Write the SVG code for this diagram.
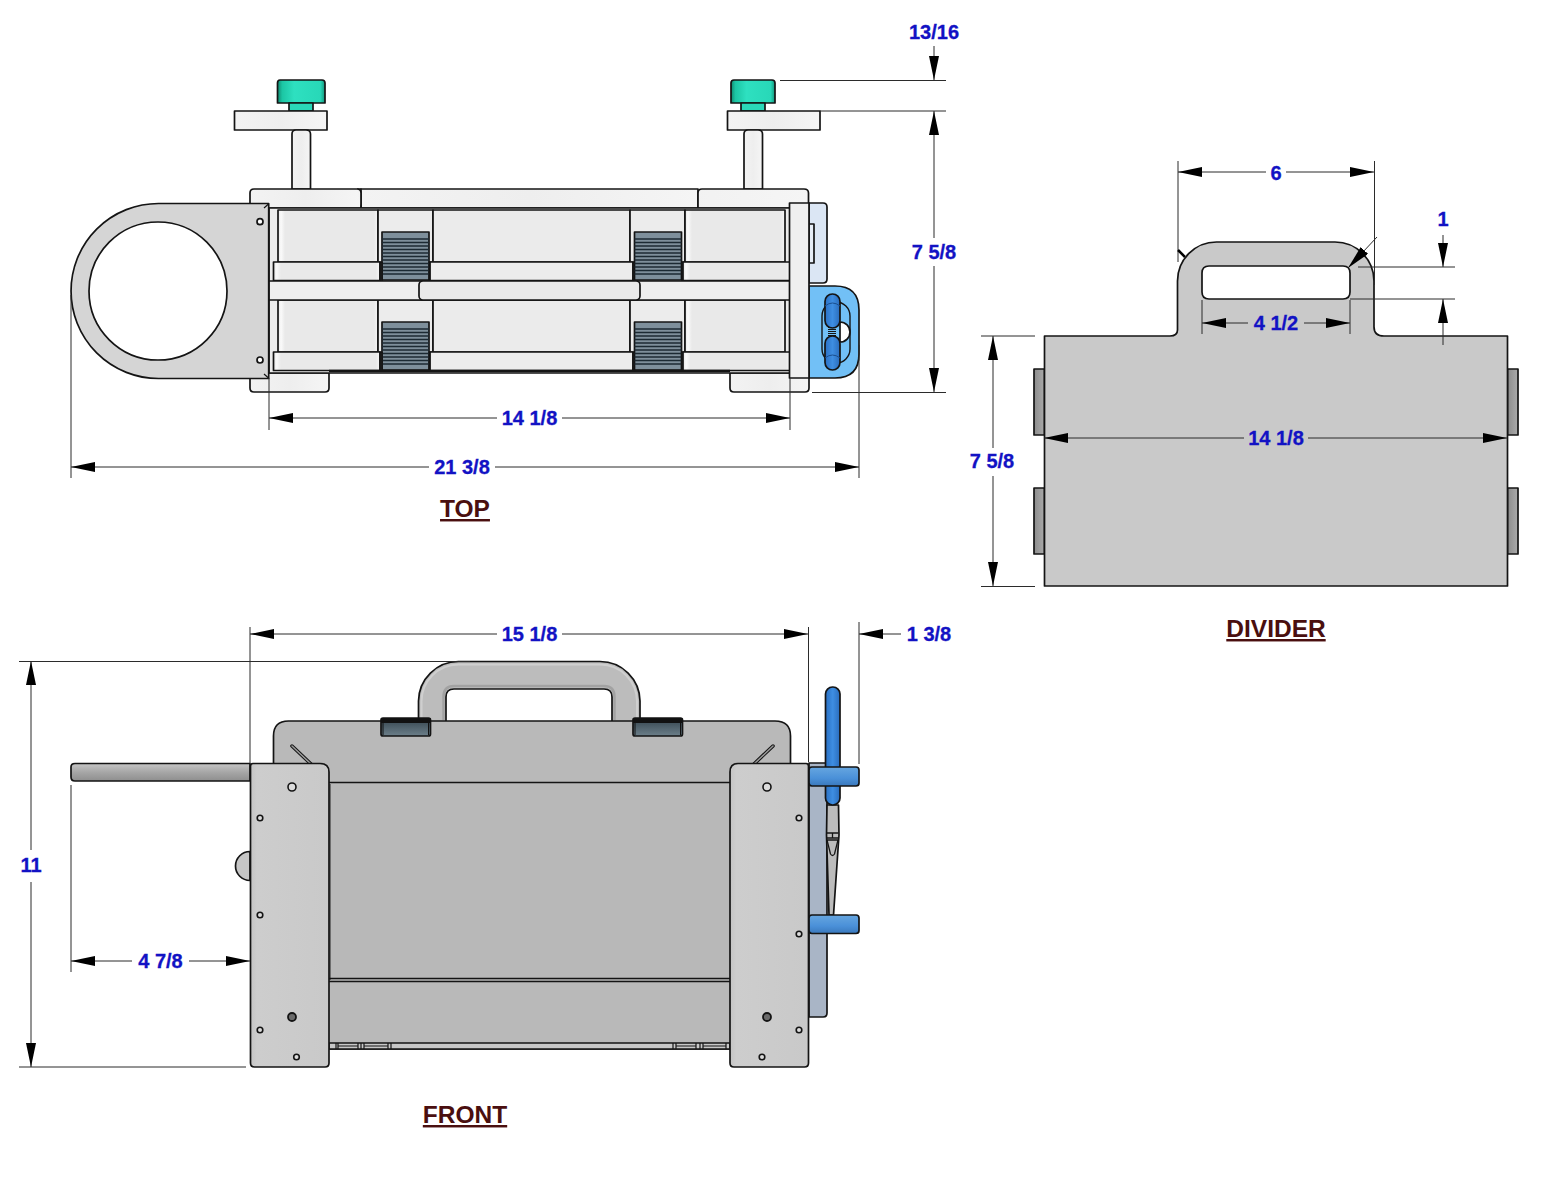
<svg xmlns="http://www.w3.org/2000/svg" width="1564" height="1200" viewBox="0 0 1564 1200">
<style>
.o{stroke:#141414;stroke-width:1.7;stroke-linejoin:round}
.lt{fill:url(#lightH)}
.pn{fill:url(#panel)}
.gr{fill:#d5d5d5}
.fr{fill:#b9b9b9}
.pl{fill:url(#plate)}
.ho{fill:#dcdcdc;stroke:#141414;stroke-width:1.6}
.hk{fill:#6a6a6a;stroke:#141414;stroke-width:1.8}
.sl{stroke:#1c2a33;stroke-width:1.5}
.d{stroke:#2b2b2b;stroke-width:1;fill:none}
.a{marker-end:url(#ar)}
.t{font:bold 20px "Liberation Sans",Arial,sans-serif;fill:#1212c4;stroke:#1212c4;stroke-width:.3;text-anchor:middle}
.h{font:bold 24.5px "Liberation Sans",Arial,sans-serif;fill:#4a0f0f;text-anchor:middle;text-decoration:underline}
</style>
<defs>
<marker id="ar" markerUnits="userSpaceOnUse" markerWidth="24" markerHeight="12" refX="24" refY="5" orient="auto"><path d="M0 0L24 5L0 10Z" fill="#000"/></marker>
<linearGradient id="lightH" x1="0" x2="1" y1="0" y2="0"><stop offset="0" stop-color="#f3f3f3"/><stop offset=".5" stop-color="#eeeeee"/><stop offset="1" stop-color="#f5f5f5"/></linearGradient>
<linearGradient id="panel" x1="0" x2="1" y1="0" y2="0"><stop offset="0" stop-color="#e6e6e6"/><stop offset=".03" stop-color="#fafafa"/><stop offset=".07" stop-color="#e9e9e9"/><stop offset=".96" stop-color="#e9e9e9"/><stop offset="1" stop-color="#f6f6f6"/></linearGradient>
<linearGradient id="plate" x1="0" x2="1" y1="0" y2="0"><stop offset="0" stop-color="#c4c4c4"/><stop offset=".08" stop-color="#cdcdcd"/><stop offset="1" stop-color="#c9c9c9"/></linearGradient>
<linearGradient id="teal" x1="0" x2="1" y1="0" y2="0"><stop offset="0" stop-color="#108a70"/><stop offset=".1" stop-color="#1cc6a4"/><stop offset=".35" stop-color="#2ee0c0"/><stop offset=".9" stop-color="#28d8b8"/><stop offset="1" stop-color="#14957c"/></linearGradient>
<linearGradient id="bar" x1="0" x2="0" y1="0" y2="1"><stop offset="0" stop-color="#c6c6c6"/><stop offset=".5" stop-color="#a6a6a6"/><stop offset="1" stop-color="#8e8e8e"/></linearGradient>
<linearGradient id="tab" x1="0" x2="1" y1="0" y2="0"><stop offset="0" stop-color="#8c8c8c"/><stop offset="1" stop-color="#ababab"/></linearGradient>
<linearGradient id="latch" x1="0" x2="0" y1="0" y2="1"><stop offset="0" stop-color="#33434c"/><stop offset="1" stop-color="#6c7f8a"/></linearGradient>
<linearGradient id="blue" x1="0" x2="1" y1="0" y2="0"><stop offset="0" stop-color="#2a70c4"/><stop offset=".5" stop-color="#3e8ee2"/><stop offset="1" stop-color="#2a6cbc"/></linearGradient>
<linearGradient id="bluebar" x1="0" x2="0" y1="0" y2="1"><stop offset="0" stop-color="#66a6e0"/><stop offset=".6" stop-color="#4a90d8"/><stop offset="1" stop-color="#3a78bc"/></linearGradient>
<g id="strap">
<rect x="0" y="0" width="47" height="48" fill="#7e8f9b" class="o"/>
<path d="M0 7H47M0 10.5H47M0 14H47M0 17.5H47M0 21H47M0 24.500H47M0 28H47M0 31.500H47M0 35H47M0 38.500H47M0 42H47" class="sl" fill="none"/>
</g>
</defs>
<rect width="1564" height="1200" fill="#fff"/>

<g id="top-view">
<g id="top-knob-left">
<path d="M277.500 103V83Q277.500 80 280 80H322Q325 80 325 83V103Z" fill="url(#teal)" class="o"/>
<rect x="289" y="103" width="24" height="8" fill="#2ad8b8" class="o"/>
<rect x="234.500" y="111" width="92.500" height="19" class="o lt"/>
<path d="M292 189V134Q292 130 296 130H306Q310.500 130 310.500 134V189Z" class="o lt"/>
</g>
<g id="top-knob-right">
<path d="M731 103V83Q731 80 734 80H772Q775 80 775 83V103Z" fill="url(#teal)" class="o"/>
<rect x="741" y="103" width="24" height="8" fill="#2ad8b8" class="o"/>
<rect x="727.500" y="111" width="92.500" height="19" class="o lt"/>
<path d="M744 189V134Q744 130 748 130H758Q762.500 130 762.500 134V189Z" class="o lt"/>
</g>
<g id="top-rear-handle">
<path d="M809 203H823Q827 203 827 207V279Q827 283 823 283H809Z" fill="#dbe6f4" class="o"/>
<path d="M809 224H814V263H809Z" fill="#e6edf6" class="o"/>
</g>
<g id="top-blue-bracket">
<path d="M809 286H835Q859 286 859 310V354Q859 378 835 378H809Z" fill="#72c0f6" class="o"/>
<rect x="822" y="302" width="28" height="61" rx="14" fill="#72c0f6" stroke="#141414" stroke-width="1.4"/>
<path d="M840 322A10 10 0 0 1 840 342Z" fill="#fff" class="o"/>
<path d="M832 321V342" stroke="#141414" stroke-width="8" stroke-dasharray="1 1"/>
<rect x="825" y="294" width="15" height="34" rx="7.500" fill="url(#blue)" class="o"/>
<rect x="825" y="336" width="15" height="34" rx="7.500" fill="url(#blue)" class="o"/>
<path d="M825 306Q832.500 300 840 306M825 358Q832.500 352 840 358" stroke="#1b4f8f" stroke-width="1" fill="none"/>
</g>
<g id="top-clamps">
<path d="M250 208V193Q250 189 254 189H361V208Z" class="o lt"/>
<path d="M361 189H698V208H361Z" class="o lt"/>
<path d="M361 208V193Q361 189 357 189M698 208V193Q698 189 702 189H804Q808.500 189 808.500 193V208H698Z" class="o lt"/>
<path d="M250 373H329V388Q329 392 325 392H254Q250 392 250 388Z" class="o lt"/>
<path d="M730 373H809V388Q809 392 805 392H734Q730 392 730 388Z" class="o lt"/>
</g>
<g id="top-box">
<rect x="269" y="208" width="521" height="165" fill="#ececec" class="o"/>
<rect x="278" y="210" width="100" height="52" class="o pn"/>
<rect x="378" y="210" width="55" height="52" fill="#ececec" class="o"/>
<rect x="433" y="210" width="197" height="52" fill="#ebebeb" class="o"/>
<rect x="630" y="210" width="55" height="52" fill="#ececec" class="o"/>
<rect x="685" y="210" width="100" height="52" class="o pn"/>
<rect x="278" y="300" width="100" height="52" class="o pn"/>
<rect x="378" y="300" width="55" height="52" fill="#ececec" class="o"/>
<rect x="433" y="300" width="197" height="52" fill="#ebebeb" class="o"/>
<rect x="630" y="300" width="55" height="52" fill="#ececec" class="o"/>
<rect x="685" y="300" width="100" height="52" class="o pn"/>
<rect x="273.500" y="262" width="106.500" height="18.500" class="o pn"/>
<rect x="430" y="262" width="203" height="18.500" fill="#ececec" class="o"/>
<rect x="683" y="262" width="107" height="18.500" class="o pn"/>
<rect x="273.500" y="352" width="106.500" height="18.500" class="o pn"/>
<rect x="430" y="352" width="203" height="18.500" fill="#ececec" class="o"/>
<rect x="683" y="352" width="107" height="18.500" class="o pn"/>
<use href="#strap" x="382" y="232"/>
<use href="#strap" x="634.500" y="232"/>
<use href="#strap" x="382" y="322"/>
<use href="#strap" x="634.500" y="322"/>
<path d="M380 262V281M382 262V281M429.500 262V281M633 262V281M682 262V281M380 352V371M382 352V371M429.500 352V371M633 352V371M682 352V371" stroke="#141414" stroke-width="1.600"/>
<path d="M329 371H730" stroke="#141414" stroke-width="2.500"/>
<rect x="269" y="281" width="521" height="19" fill="#eeeeee" class="o"/>
<rect x="419" y="281" width="221" height="19" rx="4" fill="#eaeaea" class="o"/>
<rect x="789.500" y="203" width="19.500" height="175" fill="#efefef" class="o"/>
</g>
<g id="top-ring">
<path fill-rule="evenodd" d="M268.700 203.500V378.500H158.500A87.500 87.500 0 0 1 158.500 203.500ZM158 222A69 69 0 1 0 158 360A69 69 0 1 0 158 222Z" class="o gr"/>
<circle cx="260" cy="221.700" r="3" fill="#fff" class="o"/>
<circle cx="260" cy="360" r="3" fill="#fff" class="o"/>
<path d="M264 208L268.500 204M264 374L268.500 378" stroke="#141414" stroke-width="1.200"/>
</g>
</g>

<g id="divider">
<g id="divider-tabs">
<rect x="1034" y="369" width="10.500" height="66" fill="url(#tab)" class="o"/>
<rect x="1034" y="488" width="10.500" height="66" fill="url(#tab)" class="o"/>
<rect x="1507.500" y="369" width="10.500" height="66" fill="url(#tab)" class="o"/>
<rect x="1507.500" y="488" width="10.500" height="66" fill="url(#tab)" class="o"/>
</g>
<path id="divider-body" fill-rule="evenodd" d="M1044.500 336H1170Q1177.500 336 1177.500 330V281A39 39 0 0 1 1216.500 242H1335A39 39 0 0 1 1374 281V327Q1374 336 1384 336H1507.500V586H1044.500ZM1209 266Q1202 266 1202 273V292Q1202 299 1209 299H1343Q1350 299 1350 292V273Q1350 266 1343 266Z" fill="#c9c9c9" class="o"/>
</g>

<g id="front-view">
<g id="front-rear">
<path d="M809 763H827V1013Q827 1017 823 1017H809Z" fill="#a9b5c6" class="o"/>
</g>
<g id="front-crank">
<path d="M827 805H838.500L839 835L833.500 915H829L826.500 835Z" fill="#bcbcbc" class="o"/>
<path d="M827 833H838.500M827 838H838.500M832.500 833V838M827 840L830.500 854Q832.500 857 834.500 854L838 840Z" fill="none" stroke="#141414" stroke-width="1.300"/>
<rect x="825.500" y="687" width="14.500" height="118" rx="7" fill="url(#blue)" class="o"/>
<rect x="809" y="767" width="50" height="19" rx="3" fill="url(#bluebar)" class="o"/>
<rect x="809" y="915" width="50" height="18.500" rx="3" fill="url(#bluebar)" class="o"/>
</g>
<g id="front-handle">
<path fill-rule="evenodd" d="M418.500 722V701A40 40 0 0 1 458.500 661.500H600A40 40 0 0 1 640 701V722H612V697Q612 689 604 689H454Q446 689 446 697V722Z" fill="#bcbcbc" class="o"/>
<path d="M421.500 722V702A37 37 0 0 1 458.500 664.500H600A37 37 0 0 1 637 702V722" fill="none" stroke="#cfcfcf" stroke-width="2"/>
<path d="M443.500 720V697Q443.500 686 454 686H604Q614.500 686 614.500 697V720" fill="none" stroke="#a2a2a2" stroke-width="2.500"/>
</g>
<g id="front-box">
<path d="M273.500 1049V736Q273.500 721 288.500 721H775Q790.500 721 790.500 736V1049Z" class="o fr"/>
<rect x="330" y="785" width="400" height="194" fill="#b8b8b8"/>
<path d="M330 784V980" stroke="#555" stroke-width="1.500"/>
<path d="M274 782.500H790M329 978.500H730" stroke="#141414" stroke-width="1.500"/>
<path d="M329 985H730" stroke="#c6c6c6" stroke-width="0"/>
<path d="M329 981.500H730" stroke="#141414" stroke-width="1.500"/>
<rect x="329" y="1043" width="401" height="6" fill="#c8c8c8" class="o"/>
<path d="M336 1043V1049M338 1043V1049M358 1043V1049M361 1043V1049M364 1043V1049M388 1043V1049M391 1043V1049M673 1043V1049M676 1043V1049M696 1043V1049M700 1043V1049M703 1043V1049M726 1043V1049M338 1046H358M364 1046H388M676 1046H696M703 1046H726" stroke="#141414" stroke-width="1.200"/>
<path d="M292 746L311 764M773 746L754 764" stroke="#141414" stroke-width="3.500" stroke-linecap="round"/>
<path d="M292 746L311 764M773 746L754 764" stroke="#9b9b9b" stroke-width="1.500" stroke-linecap="round"/>
</g>
<g id="front-latches">
<rect x="381" y="718" width="49.500" height="18" rx="2" fill="url(#latch)" class="o"/>
<rect x="381" y="718" width="49.500" height="5" fill="#111"/>
<path d="M383 723V735M428.500 723V735" stroke="#111" stroke-width="1"/>
<rect x="633" y="718" width="49.500" height="18" rx="2" fill="url(#latch)" class="o"/>
<rect x="633" y="718" width="49.500" height="5" fill="#111"/>
<path d="M635 723V735M680.500 723V735" stroke="#111" stroke-width="1"/>
</g>
<g id="front-bar">
<path d="M250 763.500H75Q71 763.500 71 767V777Q71 781 75 781H250Z" fill="url(#bar)" class="o"/>
<path d="M250 851.500A14.500 14.500 0 0 0 250 880.500Z" fill="#c6c6c6" class="o"/>
</g>
<g id="front-plate-left">
<path d="M250.500 766Q250.500 763.500 253 763.500H320Q329 763.500 329 772V1063Q329 1067 325 1067H254.500Q250.500 1067 250.500 1063Z" class="o pl"/>
<circle cx="292" cy="787" r="4" class="ho"/>
<circle cx="260" cy="818" r="2.800" class="ho"/>
<circle cx="260" cy="915" r="2.800" class="ho"/>
<circle cx="260" cy="1030" r="2.800" class="ho"/>
<circle cx="292" cy="1017" r="4" class="hk"/>
<circle cx="296.500" cy="1057" r="2.800" class="ho"/>
</g>
<g id="front-plate-right">
<path d="M730 772Q730 763.500 738 763.500H806Q808.500 763.500 808.500 766V1063Q808.500 1067 804.500 1067H734Q730 1067 730 1063Z" class="o pl"/>
<circle cx="767" cy="787" r="4" class="ho"/>
<circle cx="799" cy="818" r="2.800" class="ho"/>
<circle cx="799" cy="934" r="2.800" class="ho"/>
<circle cx="799" cy="1030" r="2.800" class="ho"/>
<circle cx="767" cy="1017" r="4" class="hk"/>
<circle cx="762" cy="1057" r="2.800" class="ho"/>
</g>
</g>

<g id="connectors">
<path class="d" d="M780 80.500H946M820 111H946M812 392.500H946M269 378V430M790 378V430M71 295V478M859 345V478"/>
<line class="d a" x1="934" y1="46" x2="934" y2="80"/>
<line class="d a" x1="934" y1="238" x2="934" y2="111"/>
<line class="d a" x1="934" y1="266" x2="934" y2="392"/>
<line class="d a" x1="497" y1="418" x2="269" y2="418"/>
<line class="d a" x1="562" y1="418" x2="790" y2="418"/>
<line class="d a" x1="429" y1="467" x2="71" y2="467"/>
<line class="d a" x1="495" y1="467" x2="859" y2="467"/>

<path class="d" d="M1178 161V262M1374.500 161V285M1358 267H1455M1350 299H1455M1202 300V334M1350 300V334M981 336H1035M981 586.500H1035"/>
<line class="d a" x1="1266" y1="172" x2="1178" y2="172"/>
<line class="d a" x1="1286" y1="172" x2="1374" y2="172"/>
<line class="d a" x1="1443" y1="235" x2="1443" y2="267"/>
<line class="d a" x1="1443" y1="345" x2="1443" y2="299"/>
<line class="d a" x1="1248" y1="323" x2="1202" y2="323"/>
<line class="d a" x1="1304" y1="323" x2="1350" y2="323"/>
<line class="d a" x1="1244" y1="438" x2="1044" y2="438"/>
<line class="d a" x1="1308" y1="438" x2="1507" y2="438"/>
<line class="d a" x1="993" y1="448" x2="993" y2="336"/>
<line class="d a" x1="993" y1="476" x2="993" y2="586"/>
<line class="d a" x1="1377" y1="237" x2="1348" y2="268"/>
<path d="M1178 250L1185 257" stroke="#000" stroke-width="2.500"/>

<path class="d" d="M250 627V763M808.500 627V762M859 622V764M19 661.500H470M19 1067H246M71 785V972"/>
<line class="d a" x1="497" y1="634" x2="250" y2="634"/>
<line class="d a" x1="562" y1="634" x2="808" y2="634"/>
<line class="d a" x1="901" y1="634" x2="859" y2="634"/>
<line class="d a" x1="31" y1="850" x2="31" y2="661"/>
<line class="d a" x1="31" y1="882" x2="31" y2="1067"/>
<line class="d a" x1="132" y1="961" x2="71" y2="961"/>
<line class="d a" x1="189" y1="961" x2="250" y2="961"/>
</g>

<g id="labels">
<text class="t" x="934" y="39">13/16</text>
<text class="t" x="934" y="259">7 5/8</text>
<text class="t" x="529.500" y="425">14 1/8</text>
<text class="t" x="462" y="474">21 3/8</text>
<text class="t" x="1276" y="180">6</text>
<text class="t" x="1443" y="226">1</text>
<text class="t" x="1276" y="330">4 1/2</text>
<text class="t" x="1276" y="445">14 1/8</text>
<text class="t" x="992" y="468">7 5/8</text>
<text class="t" x="529.500" y="641">15 1/8</text>
<text class="t" x="929" y="641">1 3/8</text>
<text class="t" x="31" y="872">11</text>
<text class="t" x="160.500" y="968">4 7/8</text>
<text class="h" x="465" y="517">TOP</text>
<text class="h" x="1276" y="637">DIVIDER</text>
<text class="h" x="465" y="1123">FRONT</text>
</g>
</svg>
